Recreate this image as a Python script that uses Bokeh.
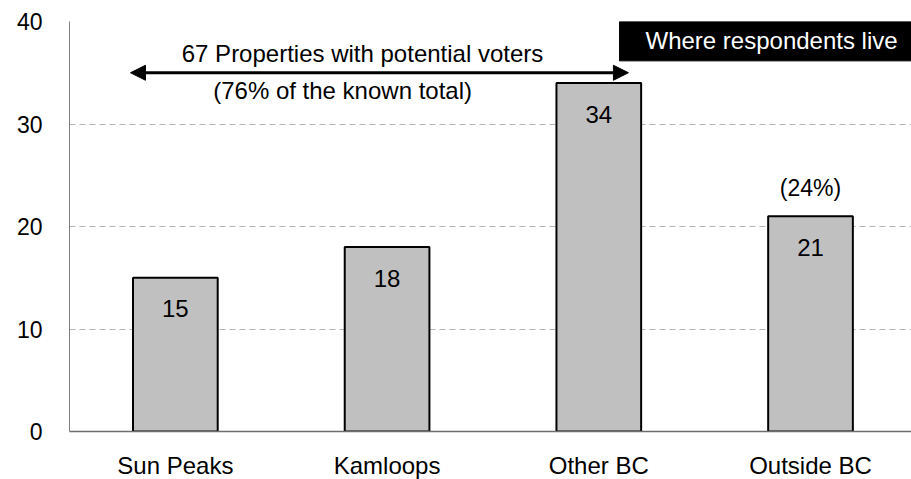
from bokeh.plotting import figure
from bokeh.models import Range1d, FixedTicker, Arrow, NormalHead, ColumnDataSource
from bokeh.embed import file_html
from bokeh.resources import INLINE
from bokeh.core.properties import value

# ---- data ----
categories = ["Sun Peaks", "Kamloops", "Other BC", "Outside BC"]
counts = [15, 18, 34, 21]
y_ticks = [0, 10, 20, 30, 40]
share_outside = "(24%)"
arrow_text_top = "67 Properties with potential voters"
arrow_text_bottom = "(76% of the known total)"
title_text = "Where respondents live"

FONT = "Liberation Sans"
idx = list(range(len(categories)))

src = ColumnDataSource(dict(x=idx, counts=counts, labels=[str(c) for c in counts], cat=categories))

p = figure(frame_width=842, frame_height=410, output_backend="svg", toolbar_location=None,
           x_range=Range1d(-0.5, 3.477), y_range=Range1d(0, 40),
           min_border_left=69, min_border_right=0, min_border_top=21, min_border_bottom=0)
p.outline_line_color = None
p.background_fill_color = "white"
p.border_fill_color = "white"

# grid
p.xgrid.visible = False
p.ygrid.grid_line_color = "#b3b3b3"
p.ygrid.grid_line_dash = "6 4"
p.ygrid.grid_line_width = 1
p.ygrid.ticker = FixedTicker(ticks=y_ticks)

# y axis
p.yaxis.ticker = FixedTicker(ticks=y_ticks)
p.yaxis.major_tick_out = 0
p.yaxis.major_tick_in = 0
p.yaxis.minor_tick_out = 0
p.yaxis.minor_tick_in = 0
p.yaxis.axis_line_color = "#808080"
p.yaxis.major_label_standoff = 27
p.yaxis.major_label_text_font = FONT
p.yaxis.major_label_text_font_size = "23px"
p.yaxis.major_label_text_color = "black"

# x axis
p.xaxis.ticker = FixedTicker(ticks=idx)
p.xaxis.major_label_overrides = {i: c for i, c in zip(idx, categories)}
p.xaxis.major_tick_out = 0
p.xaxis.major_tick_in = 0
p.xaxis.minor_tick_out = 0
p.xaxis.minor_tick_in = 0
p.xaxis.axis_line_color = "#6e6e6e"
p.xaxis.axis_line_width = 1.5
p.xaxis.major_label_standoff = 20
p.xaxis.major_label_text_font = FONT
p.xaxis.major_label_text_font_size = "24px"
p.xaxis.major_label_text_color = "black"

# bars
p.vbar(x="x", top="counts", width=0.4, source=src, fill_color="#c0c0c0",
       line_color="black", line_width=2)

# values inside bars
p.text(x="x", y="counts", text="labels", source=src, text_align="center",
       text_baseline="middle", y_offset=31, text_font=value(FONT),
       text_font_size=value("24px"), text_color="black")

# share above Outside BC
p.text(x=[idx[3]], y=[counts[3]], text=[share_outside], text_align="center",
       text_baseline="middle", y_offset=-28, text_font=value(FONT),
       text_font_size=value("23px"), text_color="black")

# arrow annotation
p.add_layout(Arrow(x_start=-0.212, y_start=35, x_end=2.14, y_end=35,
                   line_width=3, line_color="black",
                   start=NormalHead(size=15, fill_color="black", line_color="black"),
                   end=NormalHead(size=15, fill_color="black", line_color="black")))
p.text(x=[0.884], y=[36.84], text=[arrow_text_top], text_align="center",
       text_baseline="middle", text_font=value(FONT), text_font_size=value("24px"),
       text_color="black")
p.text(x=[0.79], y=[33.24], text=[arrow_text_bottom], text_align="center",
       text_baseline="middle", text_font=value(FONT), text_font_size=value("24px"),
       text_color="black")

# title box
p.quad(left=[2.098], right=[3.477], top=[40], bottom=[36.16],
       fill_color="black", line_color="black")
p.text(x=[2.816], y=[38.1], text=[title_text], text_align="center",
       text_baseline="middle", text_font=value(FONT), text_font_size=value("24px"),
       text_color="white")

open("out.html", "w").write(file_html(p, INLINE))
